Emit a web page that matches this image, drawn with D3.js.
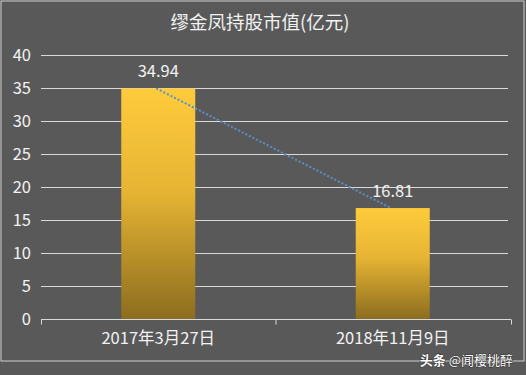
<!DOCTYPE html>
<html>
<head>
<meta charset="utf-8">
<script src="https://cdn.jsdelivr.net/npm/d3@7"></script>
<style>
  body { margin: 0; background: #595959; }
  svg { display: block; }
  text { font-family: "Noto Sans CJK SC", "Liberation Sans", sans-serif; fill: #f2f2f2; }
</style>
</head>
<body>
<svg id="chart" width="526" height="375"></svg>
<script>
const title = '缪金凤持股市值(亿元)';
const categories = ['2017年3月27日', '2018年11月9日'];
const values = [34.94, 16.81];
const yTicks = [0, 5, 10, 15, 20, 25, 30, 35, 40];

const width = 526, height = 375;
const svg = d3.select('#chart');

// frame
svg.append('rect').attr('width', width).attr('height', height).attr('fill', '#595959');
svg.append('rect')
  .attr('x', 1).attr('y', 1).attr('width', 523).attr('height', 360)
  .attr('fill', 'none').attr('stroke', '#d0d0d0').attr('stroke-width', 1);

const x = d3.scaleBand().domain(categories).range([41, 510]).paddingInner(0).paddingOuter(0);
const y = d3.scaleLinear().domain([0, 40]).range([319, 55]);
const barW = 74;

// gridlines
svg.append('g').selectAll('line').data(yTicks.filter(d => d > 0)).join('line')
  .attr('x1', 41).attr('x2', 508)
  .attr('y1', d => y(d) + 0.5).attr('y2', d => y(d) + 0.5)
  .attr('stroke', '#d9d9d9').attr('stroke-width', 1);

// y labels
svg.append('g').selectAll('text').data(yTicks).join('text')
  .attr('x', 31).attr('y', d => y(d))
  .attr('dy', '0.36em').attr('text-anchor', 'end')
  .style('font-size', '16.5px')
  .text(d => d);

// gradient
const defs = svg.append('defs');
function addGrad(id, top) {
  const g = defs.append('linearGradient')
    .attr('id', id).attr('gradientUnits', 'userSpaceOnUse')
    .attr('x1', 0).attr('x2', 0).attr('y1', y(top)).attr('y2', y(0));
  g.append('stop').attr('offset', '0%').attr('stop-color', '#fecb3c');
  g.append('stop').attr('offset', '45%').attr('stop-color', '#e6b433');
  g.append('stop').attr('offset', '100%').attr('stop-color', '#8c6d1f');
}
values.forEach((v, i) => addGrad('barGrad' + i, v));

// bars
svg.append('g').selectAll('rect').data(values).join('rect')
  .attr('x', (d, i) => x(categories[i]) + x.bandwidth() / 2 - barW / 2)
  .attr('y', d => y(d))
  .attr('width', barW)
  .attr('height', d => y(0) - y(d))
  .attr('fill', (d, i) => 'url(#barGrad' + i + ')');

// x axis
const axisY = y(0) + 0.5;
svg.append('line').attr('x1', 41).attr('x2', 511).attr('y1', axisY).attr('y2', axisY)
  .attr('stroke', '#d9d9d9');
const tickX = [41, x(categories[1]), 511];
svg.append('g').selectAll('line').data(tickX).join('line')
  .attr('x1', d => d + 0.5).attr('x2', d => d + 0.5)
  .attr('y1', axisY).attr('y2', axisY + 5)
  .attr('stroke', '#d9d9d9');

svg.append('g').selectAll('text').data(categories).join('text')
  .attr('x', d => x(d) + x.bandwidth() / 2)
  .attr('y', 344)
  .attr('text-anchor', 'middle')
  .style('font-size', '16.5px')
  .text(d => d);

// trendline
const pts = values.map((v, i) => [x(categories[i]) + x.bandwidth() / 2 - 2, y(v)]);
svg.append('line')
  .attr('x1', pts[0][0]).attr('y1', pts[0][1])
  .attr('x2', pts[1][0]).attr('y2', pts[1][1])
  .attr('stroke', '#5b8fc9').attr('stroke-width', 2)
  .attr('stroke-dasharray', '2,2');

// data labels
svg.append('g').selectAll('text').data(values).join('text')
  .attr('x', (d, i) => x(categories[i]) + x.bandwidth() / 2)
  .attr('y', d => y(d) - 11)
  .attr('text-anchor', 'middle')
  .style('font-size', '16.5px')
  .text(d => d.toFixed(2));

// title
svg.append('text').attr('x', 260).attr('y', 29).attr('text-anchor', 'middle')
  .style('font-size', '18.5px').text(title);

// watermark
svg.append('text').attr('x', 513).attr('y', 365).attr('text-anchor', 'end')
  .style('font-size', '13px').style('fill', '#ffffff')
  .style('paint-order', 'stroke').style('stroke', '#333').style('stroke-width', '1px')
  .html('<tspan font-weight="bold">头条</tspan> @闻樱桃醉');
</script>
</body>
</html>
